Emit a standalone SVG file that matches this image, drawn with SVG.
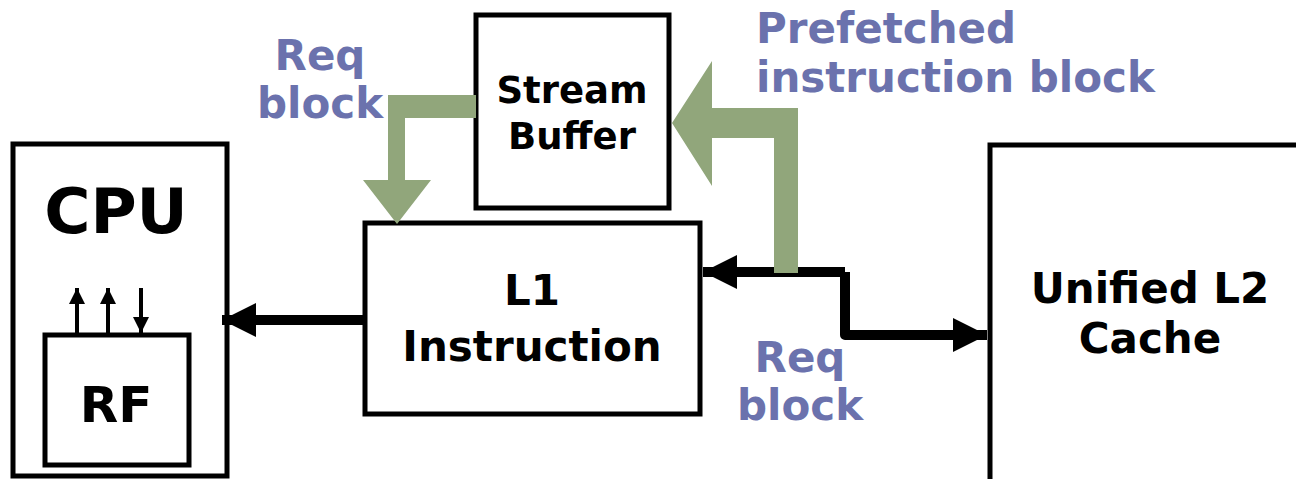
<svg xmlns="http://www.w3.org/2000/svg" width="1296" height="479" viewBox="0 0 1296 479">
<defs>
<style>
.box{fill:#fff;stroke:#000;stroke-width:5}
.t{font-family:"DejaVu Sans",Verdana,sans-serif;font-weight:bold;fill:#000;text-anchor:middle}
.lbl{font-family:"DejaVu Sans",Verdana,sans-serif;font-weight:bold;fill:#6b72ad}
.green{fill:#91a67b}
.wire{fill:none;stroke:#000;stroke-width:10;stroke-linejoin:round}
.thin{fill:none;stroke:#000;stroke-width:4}
</style>
<marker id="ah" viewBox="0 0 10 10" refX="10" refY="5" markerWidth="3.4" markerHeight="3.6" markerUnits="strokeWidth" orient="auto"><path d="M0,0L10,5L0,10z" fill="#000"/></marker>
<marker id="ahs" viewBox="0 0 10 10" refX="10" refY="5" markerWidth="4" markerHeight="4" markerUnits="strokeWidth" orient="auto"><path d="M0,0L10,5L0,10z" fill="#000"/></marker>
</defs>
<g id="cpu">
<rect class="box" x="13" y="144" width="214" height="332"/>
<text class="t" x="116" y="233" font-size="63">CPU</text>
</g>
<g id="rf">
<rect class="box" x="45" y="335" width="144" height="130"/>
<text class="t" x="116" y="422" font-size="50">RF</text>
</g>
<g id="stream-buffer">
<rect class="box" x="476" y="15" width="193" height="193"/>
<text class="t" x="572" y="103" font-size="37">Stream</text>
<text class="t" x="572" y="149" font-size="37">Buffer</text>
</g>
<g id="l1">
<rect class="box" x="365" y="223" width="335" height="191"/>
<text class="t" x="532" y="305" font-size="42">L1</text>
<text class="t" x="532" y="361" font-size="42">Instruction</text>
</g>
<g id="l2">
<rect class="box" x="990" y="145" width="320" height="345"/>
<text class="t" x="1150" y="303" font-size="42">Unified L2</text>
<text class="t" x="1150" y="353" font-size="42">Cache</text>
</g>
<g id="connectors">
<line class="wire" x1="365" y1="320" x2="222" y2="320" marker-end="url(#ah)"/>
<polyline class="wire" points="845,272 703,272" marker-end="url(#ah)"/>
<polyline class="wire" points="845,272 845,335 987,335" marker-end="url(#ah)"/>
<line class="thin" x1="77" y1="333" x2="77" y2="288" marker-end="url(#ahs)"/>
<line class="thin" x1="108" y1="333" x2="108" y2="288" marker-end="url(#ahs)"/>
<line class="thin" x1="141" y1="288" x2="141" y2="333" marker-end="url(#ahs)"/>
<polygon class="green" points="476,95 388,95 388,180 363,180 397,224 431,180 405,180 405,118 476,118"/>
<polygon class="green" points="798,273 798,108 712,108 712,61 672,123 712,186 712,138 774,138 774,273"/>
</g>
<g id="labels">
<text class="lbl" x="320" y="70" font-size="42" text-anchor="middle">Req</text>
<text class="lbl" x="320" y="118" font-size="42" text-anchor="middle">block</text>
<text class="lbl" x="756" y="43" font-size="42">Prefetched</text>
<text class="lbl" x="756" y="92" font-size="42">instruction block</text>
<text class="lbl" x="800" y="372" font-size="42" text-anchor="middle">Req</text>
<text class="lbl" x="800" y="420" font-size="42" text-anchor="middle">block</text>
</g>
</svg>
